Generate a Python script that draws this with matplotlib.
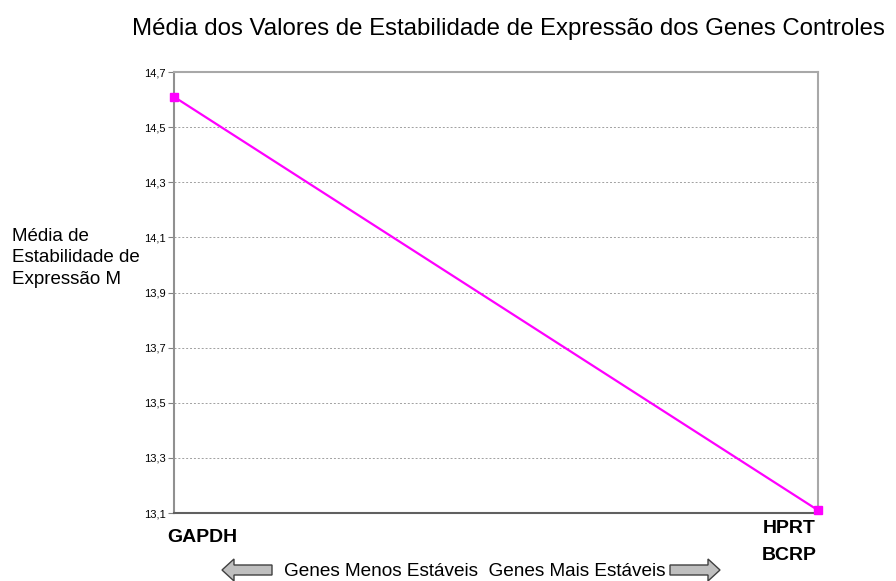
import matplotlib
matplotlib.use("Agg")
import matplotlib.pyplot as plt
from matplotlib.patches import FancyArrow

plt.rcParams['font.family'] = ['Liberation Sans', 'DejaVu Sans']

genes = ["GAPDH", "HPRT\nBCRP"]
values = [14.61, 13.11]
yticks = [13.1, 13.3, 13.5, 13.7, 13.9, 14.1, 14.3, 14.5, 14.7]
ytick_labels = ["13,1", "13,3", "13,5", "13,7", "13,9", "14,1", "14,3", "14,5", "14,7"]

fig = plt.figure(figsize=(8.96, 5.81), dpi=100)
ax = fig.add_axes([174/896, 1-513/581, (818-174)/896, (513-72)/581])

x = [0, 1]
ax.plot(x, values, color="#ff00ff", lw=1.6, marker="s", markersize=6, clip_on=False, zorder=5)
ax.set_xlim(0, 1)
ax.set_ylim(13.1, 14.7)
ax.set_yticks(yticks)
ax.set_yticklabels(ytick_labels, fontsize=8)
ax.set_xticks([])
ax.grid(axis="y", color="#a0a0a0", linestyle=(0, (2, 2)), lw=0.7)
ax.tick_params(axis="y", length=4, color="#808080", pad=2)
for s in ["top", "right", "left"]:
    ax.spines[s].set_color("#a8a8a8")
    ax.spines[s].set_linewidth(1.5)
ax.spines["left"].set_color("#909090")
ax.spines["bottom"].set_color("#606060")
ax.spines["bottom"].set_linewidth(1.5)

fig.text(508/896, 1-29/581, "Média dos Valores de Estabilidade de Expressão dos Genes Controles",
         ha="center", va="center", fontsize=17.3)
fig.text(12/896, 1-258/581, "Média de\nEstabilidade de\nExpressão M", ha="left", va="center",
         fontsize=13.5, linespacing=1.38)

fig.text(202/896, 1-538/581, genes[0], ha="center", va="center", fontsize=14, fontweight="bold")
fig.text(789/896, 1-542/581, genes[1], ha="center", va="center", fontsize=14, fontweight="bold",
         linespacing=1.8)

fig.text(475/896, 1-571/581, "Genes Menos Estáveis  Genes Mais Estáveis", ha="center", va="center",
         fontsize=13.7)

def arrow(x0, x1):
    fig.patches.append(FancyArrow(x0/896, 1-570/581, (x1-x0)/896, 0, width=10/581,
                                  head_width=22/581, head_length=12/896, length_includes_head=True,
                                  facecolor="#bfbfbf", edgecolor="#404040", lw=1,
                                  transform=fig.transFigure, figure=fig))
arrow(272, 222)
arrow(670, 720)

fig.savefig("out.png", dpi=100)
